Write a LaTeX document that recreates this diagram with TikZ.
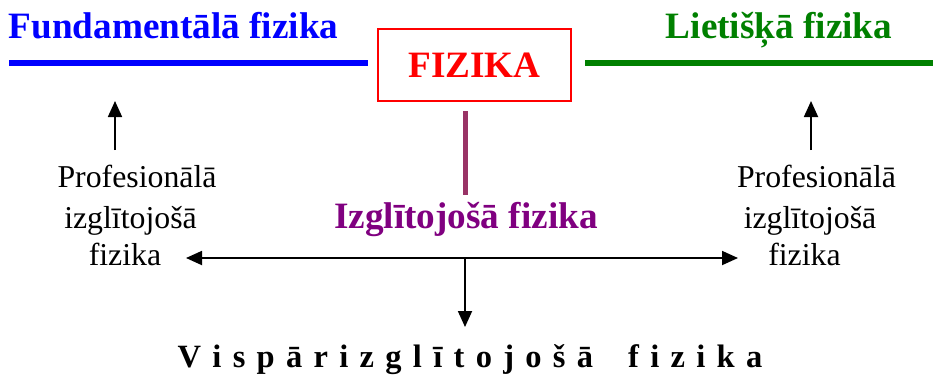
\documentclass[tikz,border=0pt]{standalone}
\usepackage{fontspec}
\setmainfont{Liberation Serif}
\usetikzlibrary{arrows.meta}
\definecolor{fundblue}{RGB}{0,0,255}
\definecolor{lietgreen}{RGB}{0,128,0}
\definecolor{izgpurple}{RGB}{128,0,128}
\definecolor{barpurple}{RGB}{153,51,102}
\definecolor{fizred}{RGB}{255,0,0}
\tikzset{
  big/.style={font=\fontsize{37.2}{40}\selectfont\bfseries, inner sep=0pt, anchor=base},
  small/.style={font=\fontsize{31.8}{34}\selectfont, inner sep=0pt, anchor=base},
  thickbar/.style={line width=5.5pt},
  arr/.style={line width=1.8pt, -{Triangle[length=16pt,width=14pt]}},
  dblarr/.style={line width=1.8pt, {Triangle[length=16pt,width=14pt]}-{Triangle[length=16pt,width=14pt]}},
}
\newcommand\lgap{\hspace{11.3pt}}
\begin{document}
\begin{tikzpicture}[x=1pt,y=-1pt]
\useasboundingbox (0,0) rectangle (933,376);
% top titles
\node[big, text=fundblue] (fund) at (173.5,38) {Fundamentālā fizika};
\node[big, text=lietgreen] (liet) at (779,38) {Lietišķā fizika};
% lines
\coordinate (bl1) at (9,63); \coordinate (bl2) at (368,63);
\coordinate (gl1) at (585,63); \coordinate (gl2) at (933,63);
\draw[thickbar, fundblue] (bl1) -- (bl2);
\draw[thickbar, lietgreen] (gl1) -- (gl2);
% FIZIKA box
\node[draw=fizred, line width=1.5pt, minimum width=193pt, minimum height=72pt, inner sep=0pt,
      font=\fontsize{37.2}{40}\selectfont\bfseries, text=fizred] (fiz) at (474.5,65) {FIZIKA};
% purple bar
\coordinate (pb1) at (465,111); \coordinate (pb2) at (465,195);
\draw[line width=5pt, barpurple] (pb1) -- (pb2);
% Izglitojosa fizika
\node[big, text=izgpurple] (izg) at (466,228) {Izglītojošā fizika};
% left texts
\node[small] (pl1) at (137,187) {Profesionālā};
\node[small] (pl2) at (130.5,228) {izglītojošā};
\node[small] (pl3) at (125,265) {fizika};
% right texts
\node[small] (pr1) at (816.5,187) {Profesionālā};
\node[small] (pr2) at (810,228) {izglītojošā};
\node[small] (pr3) at (804.5,265) {fizika};
% up arrows
\coordinate (lu1) at (115,150); \coordinate (lu2) at (115,101);
\coordinate (ru1) at (811,150); \coordinate (ru2) at (811,101);
\draw[arr] (lu1) -- (lu2);
\draw[arr] (ru1) -- (ru2);
% horizontal double arrow
\coordinate (hl) at (186,258); \coordinate (hr) at (738,258);
\draw[dblarr] (hl) -- (hr);
% down arrow
\coordinate (d1) at (465,257); \coordinate (d2) at (465,327);
\draw[arr] (d1) -- (d2);
% bottom
\node[font=\fontsize{32.5}{36}\selectfont\bfseries, inner sep=0pt, anchor=base] (visp) at (470,367)
  {V\lgap i\lgap s\lgap p\lgap ā\lgap r\lgap i\lgap z\lgap g\lgap l\lgap ī\lgap t\lgap o\lgap j\lgap o\lgap š\lgap ā\hspace{35pt}f\lgap i\lgap z\lgap i\lgap k\lgap a};
\end{tikzpicture}
\end{document}
